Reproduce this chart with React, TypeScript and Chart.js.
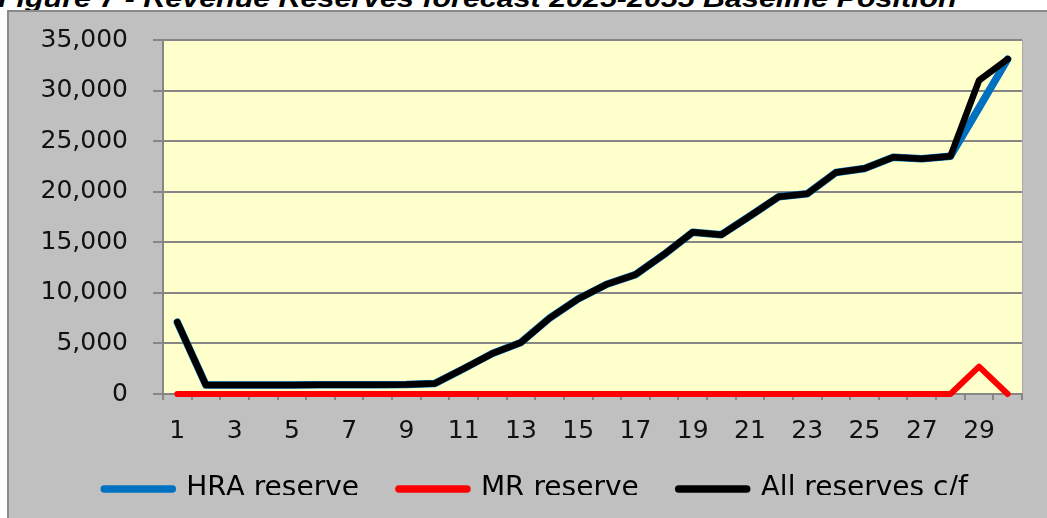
import React, { useEffect, useRef } from 'react';
import { Chart, registerables } from 'chart.js';

Chart.register(...registerables);

const titleText = 'Figure 7 - Revenue Reserves forecast 2025-2055 Baseline Position';

const categories = [
  '1', '2', '3', '4', '5', '6', '7', '8', '9', '10',
  '11', '12', '13', '14', '15', '16', '17', '18', '19', '20',
  '21', '22', '23', '24', '25', '26', '27', '28', '29', '30',
];

const xTickLabels = [
  '1', '', '3', '', '5', '', '7', '', '9', '',
  '11', '', '13', '', '15', '', '17', '', '19', '',
  '21', '', '23', '', '25', '', '27', '', '29', '',
];

const yTickValues = [0, 5000, 10000, 15000, 20000, 25000, 30000, 35000];

const hraReserve = [
  7100, 880, 880, 880, 880, 920, 920, 920, 950, 1050,
  2500, 4000, 5100, 7500, 9400, 10850, 11800, 13800, 16000, 15750,
  17600, 19500, 19800, 21900, 22300, 23400, 23250, 23500, 28300, 33100,
];

const mrReserve = [
  0, 0, 0, 0, 0, 0, 0, 0, 0, 0,
  0, 0, 0, 0, 0, 0, 0, 0, 0, 0,
  0, 0, 0, 0, 0, 0, 0, 0, 2700, 0,
];

const allReserves = [
  7100, 880, 880, 880, 880, 920, 920, 920, 950, 1050,
  2500, 4000, 5100, 7500, 9400, 10850, 11800, 13800, 16000, 15750,
  17600, 19500, 19800, 21900, 22300, 23400, 23250, 23500, 31000, 33100,
];

const seriesLabels = ['HRA reserve', 'MR reserve', 'All reserves c/f'];
const seriesColors = ['#0070C0', '#FF0000', '#000000'];

const GRID = '#868686';
const tickFont = { family: 'DejaVu Sans', size: 25 };

const backgroundPlugin = {
  id: 'chartBackground',
  beforeDraw(chart: any) {
    const { ctx, chartArea: a, width, height } = chart;
    ctx.save();
    ctx.fillStyle = '#C0C0C0';
    ctx.fillRect(7, 10, width - 7, height - 10);
    ctx.strokeStyle = '#8A8A8A';
    ctx.lineWidth = 2;
    ctx.beginPath();
    ctx.moveTo(8, height);
    ctx.lineTo(8, 11);
    ctx.lineTo(width, 11);
    ctx.stroke();
    ctx.fillStyle = '#FFFFCC';
    ctx.fillRect(a.left, a.top, a.right - a.left, a.bottom - a.top);
    ctx.strokeStyle = '#A8A8A8';
    ctx.lineWidth = 1;
    ctx.beginPath();
    ctx.moveTo(a.right + 0.5, a.top);
    ctx.lineTo(a.right + 0.5, a.bottom);
    ctx.stroke();
    ctx.restore();
  },
};

const legendPlacePlugin = {
  id: 'legendPlace',
  afterLayout(chart: any) {
    const lg = chart.legend;
    if (!lg) return;
    lg.left += 21;
    lg.right += 21;
    lg.top -= 15;
    lg.bottom -= 15;
  },
};

export default function App() {
  const canvasRef = useRef<HTMLCanvasElement | null>(null);

  useEffect(() => {
    if (!canvasRef.current) return;
    const lineBase = {
      pointRadius: 0,
      pointHoverRadius: 0,
      tension: 0,
      borderJoinStyle: 'round' as const,
      borderCapStyle: 'round' as const,
      fill: false,
      clip: false as const,
    };
    const chart = new Chart(canvasRef.current, {
      type: 'line',
      data: {
        labels: categories,
        datasets: [
          { ...lineBase, label: seriesLabels[0], data: hraReserve, borderColor: seriesColors[0], backgroundColor: seriesColors[0], borderWidth: 7.5, order: 3 },
          { ...lineBase, label: seriesLabels[1], data: mrReserve, borderColor: seriesColors[1], backgroundColor: seriesColors[1], borderWidth: 6, order: 2 },
          { ...lineBase, label: seriesLabels[2], data: allReserves, borderColor: seriesColors[2], backgroundColor: seriesColors[2], borderWidth: 6.5, order: 1 },
        ],
      },
      options: {
        animation: false,
        responsive: true,
        maintainAspectRatio: false,
        layout: { padding: { left: 8, right: 25, top: 39, bottom: 8 } },
        plugins: {
          title: { display: false },
          tooltip: { enabled: false },
          legend: {
            position: 'bottom',
            maxHeight: 60,
            labels: {
              usePointStyle: true,
              pointStyleWidth: 68,
              padding: 40,
              color: '#000',
              font: { family: 'DejaVu Sans', size: 28 },
              generateLabels: (c: any) =>
                c.data.datasets.map((ds: any, i: number) => ({
                  text: ds.label,
                  fillStyle: ds.borderColor,
                  strokeStyle: ds.borderColor,
                  lineWidth: 7.5,
                  lineCap: 'round',
                  pointStyle: 'line',
                  hidden: false,
                  fontColor: '#000',
                  datasetIndex: i,
                })),
            },
          },
        },
        scales: {
          x: {
            type: 'category',
            offset: true,
            grid: { offset: true, drawOnChartArea: false, drawTicks: true, tickLength: 6, color: GRID, lineWidth: 2 },
            border: { color: GRID, width: 2 },
            ticks: {
              autoSkip: false,
              maxRotation: 0,
              minRotation: 0,
              padding: 16,
              color: '#111',
              font: tickFont,
              callback: (_v: any, i: number) => xTickLabels[i],
            },
            afterFit: (s: any) => { s.height = 56; },
          },
          y: {
            min: 0,
            max: 35000,
            afterBuildTicks: (s: any) => { s.ticks = yTickValues.map((v) => ({ value: v })); },
            grid: { color: GRID, lineWidth: 2, drawTicks: true, tickLength: 10 },
            border: { color: GRID, width: 2 },
            ticks: {
              padding: 25,
              color: '#111',
              font: tickFont,
              callback: (v: any) => Number(v).toLocaleString('en-US'),
            },
            afterFit: (s: any) => { s.width = 155; },
          },
        },
      },
      plugins: [backgroundPlugin, legendPlacePlugin],
    });
    return () => chart.destroy();
  }, []);

  return (
    <div style={{ position: 'fixed', left: 0, top: 0, width: 1047, height: 518, overflow: 'hidden', background: '#fff' }}>
      <div
        style={{
          position: 'absolute',
          left: -2,
          top: -15,
          whiteSpace: 'nowrap',
          fontFamily: '"Liberation Sans", Arial, sans-serif',
          fontStyle: 'italic',
          fontWeight: 'bold',
          fontSize: 26,
          lineHeight: '26px',
          color: '#000',
          transform: 'scaleX(1.17)',
          transformOrigin: 'left top',
        }}
      >
        {titleText}
      </div>
      <div style={{ position: 'absolute', left: 0, top: 0, width: 1047, height: 518 }}>
        <canvas ref={canvasRef} />
      </div>
    </div>
  );
}
